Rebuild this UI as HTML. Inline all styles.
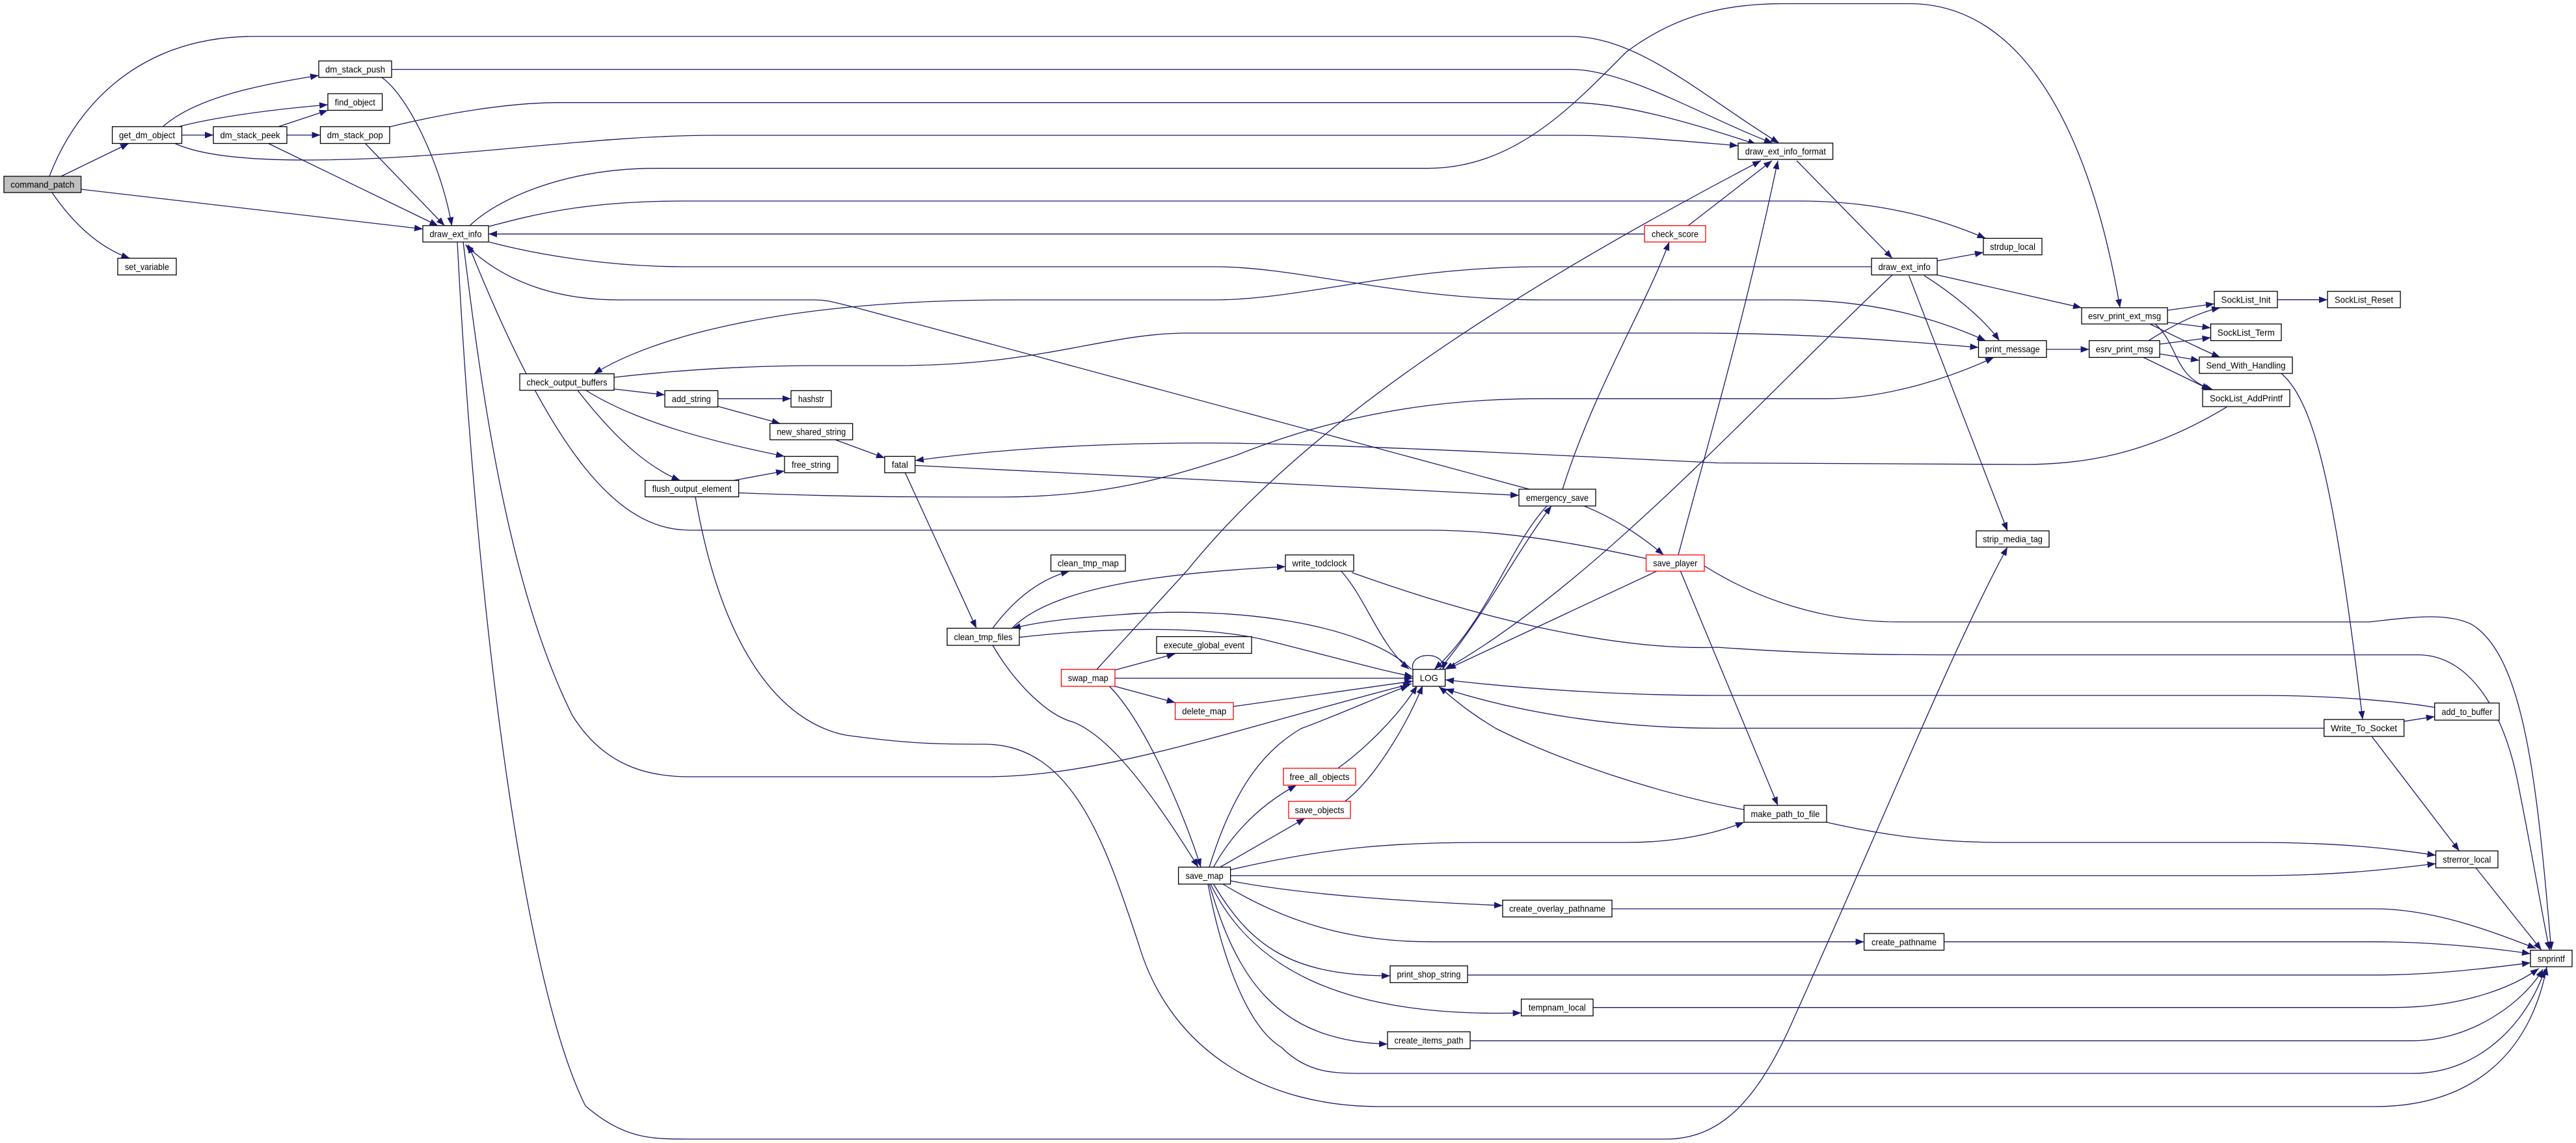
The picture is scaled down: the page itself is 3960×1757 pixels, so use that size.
<!DOCTYPE html>
<html><head><meta charset="utf-8"><style>
html,body{margin:0;padding:0;background:#fff;}
svg{display:block;}
text{font-family:"Liberation Sans",sans-serif;font-size:14px;fill:#000;}
</style></head><body>
<svg width="3960" height="1757" viewBox="0 0 3960 1757" xmlns="http://www.w3.org/2000/svg">
<defs>
<marker id="a" markerUnits="userSpaceOnUse" markerWidth="14" markerHeight="10" refX="13" refY="5" orient="auto">
<path d="M0,0 L13,5 L0,10 z" fill="#191970"/>
</marker>
</defs>
<g fill="none" stroke="#191970" stroke-width="1.3" marker-end="url(#a)">
<path d="M76,271 C110,180 200,56 390,56 L2414,56 C2520,56 2620,150 2735,220"/>
<path d="M94,271 L198,220.5"/>
<path d="M125,291 L650,352"/>
<path d="M80,296 C110,340 150,380 199.5,397"/>
<path d="M250,195 C300,150 400,130 490,116"/>
<path d="M273.6,195 C330,180 420,168 504,161"/>
<path d="M279.5,207.6 L328,207.6"/>
<path d="M269,220.5 C300,235 360,246 470,246 C700,246 900,208 1100,208 L2414,208 C2500,208 2600,218 2672,224"/>
<path d="M602,106.6 L2414,106.6 C2500,106.6 2620,180 2725,220"/>
<path d="M587,119 C630,150 680,260 694.5,347"/>
<path d="M427,195 L504,169.5"/>
<path d="M441,207.6 L492.5,207.6"/>
<path d="M412.5,220.5 L673.4,347"/>
<path d="M599,195 C680,175 780,157.7 860,157.7 L2414,157.7 C2500,157.7 2620,195 2700,222"/>
<path d="M561.5,220.5 L683.5,347"/>
<path d="M722,347 C760,310 860,258.7 1010,258.7 L2195,258.7 C2330,258.7 2420,160 2500,80 C2580,20 2660,5.6 2741,5.6 L2935,5.6 C3150,5.6 3230,300 3259,473"/>
<path d="M752,348 C820,330 900,309 1052,309 L2766,309 C2900,309 2990,340 3052.5,366.4"/>
<path d="M2528,359.7 L751,359.7"/>
<path d="M752,372 C820,390 930,410 1052,410 L1867,410 C2000,410 2150,461 2372,461 L2749,461 C2900,461 3000,500 3052.5,523.6"/>
<path d="M2351,752 L1320,474 C1280,464 1270,461 1254,461 L951,461 C850,461 770,430 715.5,376"/>
<path d="M2877,410 L2372,410 C2150,410 2000,461 1867,461 L1555,461 C1200,461 1000,520 913,574.6"/>
<path d="M944,580 C1050,568 1150,562 1260,562 L1380,562 C1600,562 1700,512 1825,512 L2600,512 C2800,512 2950,527 3041.5,534"/>
<path d="M944,598 L1022,607"/>
<path d="M1103.6,612.8 L1216,612.8"/>
<path d="M1103.6,624.6 L1199.5,651"/>
<path d="M900.7,600 C980,650 1100,680 1206,701.5"/>
<path d="M888,600 C950,680 1000,720 1045.5,738.5"/>
<path d="M1128,738.5 L1206,724"/>
<path d="M1135.6,757.6 C1300,764 1400,764 1539,764 C1700,764 1800,733 1900,700 C2050,640 2200,612.8 2372,612.8 L2808,612.8 C2900,612.8 3000,580 3065,549.4"/>
<path d="M1069,764 C1110,1000 1200,1110 1300,1130 C1400,1144 1450,1144 1514,1144 C1650,1144 1700,1300 1750,1450 C1800,1620 1950,1701 2120,1701 L3650,1701 C3800,1701 3890,1620 3915,1486"/>
<path d="M703,372 C730,900 800,1500 900,1700 C960,1751 1000,1751 1060,1751 L2560,1751 C2640,1751 2700,1700 2760,1560 C2900,1250 3000,1000 3086,841"/>
<path d="M712,372 C740,600 780,900 880,1100 C930,1180 1000,1194 1060,1194 L1514,1194 C1700,1194 1900,1120 2170,1051"/>
<path d="M2530.5,858.6 C2400,830 2300,815 2195,815 L1060,815 C950,815 850,700 720,376"/>
<path d="M1284,676 L1360,704"/>
<path d="M3423,625.7 C3300,700 3200,714 3111,714 L2640,711.6 C2400,700 2000,680 1850,681 C1650,681 1500,695 1407,708"/>
<path d="M1407,715.5 L2335,761.5"/>
<path d="M1391.5,726.7 L1501,965.7"/>
<path d="M2402,752 C2450,600 2530,470 2566,372"/>
<path d="M2595,347 L2724,247"/>
<path d="M1686,1029 L1825,877 C2000,660 2300,460 2707,247"/>
<path d="M2580,853 C2620,700 2680,500 2733,247"/>
<path d="M2909,422.6 C2700,620 2450,900 2221,1029"/>
<path d="M2378,777.8 C2320,840 2290,950 2205,1029"/>
<path d="M2213,1029 C2280,950 2330,850 2385,777.8"/>
<path d="M2435,777.8 C2490,800 2530,830 2557.5,853"/>
<path d="M1555.7,965.7 C1620,900 1800,880 1976,871"/>
<path d="M1526,965.7 C1560,920 1600,890 1644,878"/>
<path d="M2170,1029 C2100,960 1900,930 1720,945 C1650,950 1600,955 1556,966"/>
<path d="M2762,247 L2909,397"/>
<path d="M2978,401 L3049,388"/>
<path d="M2978,422.6 L3200,473"/>
<path d="M2958,423.7 C3000,450 3050,490 3073.5,523.6"/>
<path d="M2934.6,423.7 L3086,816"/>
<path d="M3146,537 L3211.6,537"/>
<path d="M3332,477 L3404,467"/>
<path d="M3332,495.5 L3398.5,504"/>
<path d="M3305,498 C3350,520 3390,540 3413,549"/>
<path d="M3313,498 C3350,530 3340,580 3402,599"/>
<path d="M3303,523.6 C3340,500 3380,480 3413,473"/>
<path d="M3320,529 L3398.5,519"/>
<path d="M3320,544 L3381,554"/>
<path d="M3295,549.4 L3397.6,599"/>
<path d="M3501,460.7 L3578,460.7"/>
<path d="M3507,574 C3560,620 3590,760 3632,1106"/>
<path d="M2078,880 C2300,960 2500,1000 2640,995 C2800,1006 2900,1006.6 3000,1006.6 L3717,1006.6 C3800,1006.6 3850,1100 3870,1200 C3900,1350 3910,1420 3919.6,1460.6"/>
<path d="M2620,870 C2700,920 2800,956 2920,956 L3642,956 C3700,950 3760,940 3800,960 C3880,1010 3900,1200 3922,1460.6"/>
<path d="M2549,877 L2225,1028.5"/>
<path d="M2583,877 L2733,1238"/>
<path d="M2061,877 C2100,920 2120,990 2166,1028.5"/>
<path d="M1714,1030 L1806.6,1005"/>
<path d="M1714,1042.5 L2172,1042.5"/>
<path d="M1714,1055 L1806.6,1080"/>
<path d="M1896,1086 L2172,1047"/>
<path d="M1705.5,1055 C1760,1110 1820,1250 1846,1333"/>
<path d="M1526,992 C1560,1050 1610,1100 1650,1110 C1700,1130 1760,1200 1842,1333"/>
<path d="M1566.6,979.7 C1700,965 1850,960 1950,985 C2050,1010 2120,1030 2172,1040"/>
<path d="M1859,1333 C1900,1200 1950,1150 2000,1120 C2080,1090 2120,1070 2166,1054"/>
<path d="M1865.5,1333 C1900,1270 1950,1230 1993,1207"/>
<path d="M1875.6,1333 L2006,1258"/>
<path d="M2056.6,1181 C2100,1150 2150,1100 2178.6,1054"/>
<path d="M2067.5,1231.7 C2110,1200 2160,1120 2187,1054"/>
<path d="M2172,1030 C2165,1000 2225,1000 2218,1030"/>
<path d="M2681,1244.6 C2550,1220 2400,1170 2300,1120 C2250,1090 2230,1070 2212,1055.5"/>
<path d="M3572.7,1119.4 L2640,1119.4 C2500,1119.4 2350,1100 2222,1059"/>
<path d="M3742.7,1087.4 C3700,1080 3600,1069 3470,1069 L2640,1069 C2500,1069 2350,1060 2222,1045"/>
<path d="M3695.6,1108.8 L3742.7,1101.5"/>
<path d="M3646,1132 L3780.6,1308"/>
<path d="M2808,1264 C2900,1285 2980,1295 3080,1295 L3465,1295 C3600,1295 3680,1305 3744.5,1314.7"/>
<path d="M1891.6,1346 L3465,1346 C3600,1346 3680,1335 3744.5,1327.6"/>
<path d="M1891.6,1337 C2050,1300 2150,1295 2300,1295 L2500,1295 C2580,1295 2640,1280 2681,1264"/>
<path d="M3806,1334 L3907,1460.6"/>
<path d="M1891.6,1354 C2000,1375 2150,1385 2310,1392"/>
<path d="M2478,1397 L3650,1397 C3750,1397 3850,1440 3898.5,1457.8"/>
<path d="M1879.8,1359 C1980,1420 2080,1447.7 2200,1447.7 L2865.6,1447.7"/>
<path d="M2988.5,1447.7 L3650,1447.7 C3750,1447.7 3850,1460 3890,1466"/>
<path d="M1865.5,1359 C1920,1450 1980,1500 2137,1500"/>
<path d="M2256,1498.8 L3650,1498.8 C3750,1498.8 3850,1485 3890,1480"/>
<path d="M1861,1359 C1920,1480 2050,1565 2338.6,1557"/>
<path d="M2449,1548.7 L3680,1548.7 C3780,1548.7 3860,1520 3902.7,1488.7"/>
<path d="M1859,1359 C1900,1500 1960,1600 2133,1605"/>
<path d="M2260,1599.8 L3709,1599.8 C3800,1599.8 3880,1540 3909.4,1489.8"/>
<path d="M1857,1359 C1880,1480 1920,1580 1970,1610 C2010,1650 2050,1650 2100,1650 L3709,1650 C3820,1650 3890,1560 3912,1490"/>
</g>
<g stroke="#000" stroke-width="1.3" fill="#fff">
<rect x="6" y="271" width="118.6" height="25" fill="#bfbfbf"/>
<rect x="172.6" y="194.7" width="106.9" height="25.8"/>
<rect x="490" y="93.7" width="112" height="25.3"/>
<rect x="504" y="144" width="83.6" height="25.5"/>
<rect x="328" y="194.7" width="113" height="25.8"/>
<rect x="492.5" y="194.7" width="106.5" height="25.8"/>
<rect x="181" y="397" width="90" height="25.6"/>
<rect x="650" y="346.8" width="101" height="25.2"/>
<rect x="799" y="574.6" width="145" height="25.4"/>
<rect x="1022" y="600.5" width="81.6" height="25.2"/>
<rect x="1216" y="600.5" width="62" height="25.2"/>
<rect x="1183.6" y="651" width="127.1" height="25"/>
<rect x="1206" y="701.5" width="82" height="25.2"/>
<rect x="991.7" y="738.5" width="143.9" height="25.2"/>
<rect x="1360" y="701.5" width="46.7" height="25.2"/>
<rect x="2335" y="752" width="118" height="25.8"/>
<rect x="1615.5" y="853" width="114.5" height="25"/>
<rect x="1976" y="853" width="105" height="25"/>
<rect x="2672" y="220" width="145.6" height="25"/>
<rect x="3049" y="366.4" width="90" height="25.3"/>
<rect x="2877" y="397" width="101" height="25.6"/>
<rect x="3200" y="473" width="132" height="25"/>
<rect x="3404" y="447.8" width="97" height="25.2"/>
<rect x="3578" y="447.8" width="112" height="25.2"/>
<rect x="3398.5" y="498" width="108.5" height="25.6"/>
<rect x="3041.5" y="523.6" width="104.5" height="25.8"/>
<rect x="3211.6" y="523.6" width="108.4" height="25.8"/>
<rect x="3381" y="548.8" width="143" height="25.2"/>
<rect x="3386" y="599" width="134" height="26"/>
<rect x="3038" y="816" width="112" height="25"/>
<rect x="1456" y="965.7" width="111" height="26.3"/>
<rect x="1778" y="978.6" width="146" height="25.8"/>
<rect x="2172" y="1029" width="49.6" height="26"/>
<rect x="2137" y="1484.7" width="119" height="25.8"/>
<rect x="2338.6" y="1535.8" width="110.4" height="25.8"/>
<rect x="2133" y="1586" width="127" height="26"/>
<rect x="1811.6" y="1333" width="80" height="26"/>
<rect x="2310" y="1383.7" width="168" height="25.8"/>
<rect x="3742.7" y="1080.7" width="99.3" height="26.3"/>
<rect x="3572.7" y="1106" width="122.9" height="26"/>
<rect x="2681" y="1238" width="127" height="26"/>
<rect x="3744.5" y="1308" width="95.5" height="26"/>
<rect x="2865.6" y="1435" width="122.9" height="25.6"/>
<rect x="3890" y="1460.6" width="64" height="25.4"/>
</g>
<g stroke="#ff0000" stroke-width="1.3" fill="#fff">
<rect x="2528" y="346.8" width="94" height="25.2"/>
<rect x="2530.5" y="853" width="89.5" height="25"/>
<rect x="1631.5" y="1029" width="82.5" height="26"/>
<rect x="1806.6" y="1080" width="89.4" height="26"/>
<rect x="1973" y="1181" width="111" height="26"/>
<rect x="1981" y="1231.7" width="95" height="26.3"/>
</g>
<g text-anchor="middle">
<text x="65.3" y="288.5" textLength="98" lengthAdjust="spacingAndGlyphs">command_patch</text>
<text x="226" y="212.6" textLength="86" lengthAdjust="spacingAndGlyphs">get_dm_object</text>
<text x="546" y="111.4" textLength="92" lengthAdjust="spacingAndGlyphs">dm_stack_push</text>
<text x="545.8" y="161.8" textLength="62" lengthAdjust="spacingAndGlyphs">find_object</text>
<text x="384.5" y="212.6" textLength="92" lengthAdjust="spacingAndGlyphs">dm_stack_peek</text>
<text x="545.8" y="212.6" textLength="86" lengthAdjust="spacingAndGlyphs">dm_stack_pop</text>
<text x="226" y="414.8" textLength="68" lengthAdjust="spacingAndGlyphs">set_variable</text>
<text x="700.5" y="364.4" textLength="80" lengthAdjust="spacingAndGlyphs">draw_ext_info</text>
<text x="871.5" y="592.3" textLength="124" lengthAdjust="spacingAndGlyphs">check_output_buffers</text>
<text x="1062.8" y="618" textLength="60" lengthAdjust="spacingAndGlyphs">add_string</text>
<text x="1247" y="618" textLength="40" lengthAdjust="spacingAndGlyphs">hashstr</text>
<text x="1247.2" y="668.5" textLength="106" lengthAdjust="spacingAndGlyphs">new_shared_string</text>
<text x="1247" y="719" textLength="60" lengthAdjust="spacingAndGlyphs">free_string</text>
<text x="1063.6" y="756" textLength="122" lengthAdjust="spacingAndGlyphs">flush_output_element</text>
<text x="1383.4" y="719" textLength="25" lengthAdjust="spacingAndGlyphs">fatal</text>
<text x="2575" y="364.4" textLength="72" lengthAdjust="spacingAndGlyphs">check_score</text>
<text x="2394" y="769.8" textLength="96" lengthAdjust="spacingAndGlyphs">emergency_save</text>
<text x="1672.8" y="870.5" textLength="94" lengthAdjust="spacingAndGlyphs">clean_tmp_map</text>
<text x="2028.5" y="870.5" textLength="84" lengthAdjust="spacingAndGlyphs">write_todclock</text>
<text x="2575.3" y="870.5" textLength="68" lengthAdjust="spacingAndGlyphs">save_player</text>
<text x="2744.8" y="237.5" textLength="124" lengthAdjust="spacingAndGlyphs">draw_ext_info_format</text>
<text x="3094" y="384" textLength="70" lengthAdjust="spacingAndGlyphs">strdup_local</text>
<text x="2927.5" y="414.8" textLength="80" lengthAdjust="spacingAndGlyphs">draw_ext_info</text>
<text x="3266" y="490.5" textLength="112" lengthAdjust="spacingAndGlyphs">esrv_print_ext_msg</text>
<text x="3452.5" y="465.4" textLength="76" lengthAdjust="spacingAndGlyphs">SockList_Init</text>
<text x="3634" y="465.4" textLength="90" lengthAdjust="spacingAndGlyphs">SockList_Reset</text>
<text x="3452.8" y="515.8" textLength="88" lengthAdjust="spacingAndGlyphs">SockList_Term</text>
<text x="3093.8" y="541.5" textLength="84" lengthAdjust="spacingAndGlyphs">print_message</text>
<text x="3265.8" y="541.5" textLength="88" lengthAdjust="spacingAndGlyphs">esrv_print_msg</text>
<text x="3452.5" y="566.4" textLength="122" lengthAdjust="spacingAndGlyphs">Send_With_Handling</text>
<text x="3453" y="617" textLength="112" lengthAdjust="spacingAndGlyphs">SockList_AddPrintf</text>
<text x="3094" y="833.5" textLength="92" lengthAdjust="spacingAndGlyphs">strip_media_tag</text>
<text x="1511.5" y="983.8" textLength="90" lengthAdjust="spacingAndGlyphs">clean_tmp_files</text>
<text x="1851" y="996.5" textLength="124" lengthAdjust="spacingAndGlyphs">execute_global_event</text>
<text x="2196.8" y="1047" textLength="28" lengthAdjust="spacingAndGlyphs">LOG</text>
<text x="1672.8" y="1047" textLength="62" lengthAdjust="spacingAndGlyphs">swap_map</text>
<text x="1851.3" y="1098" textLength="68" lengthAdjust="spacingAndGlyphs">delete_map</text>
<text x="2028.5" y="1199" textLength="92" lengthAdjust="spacingAndGlyphs">free_all_objects</text>
<text x="2028.5" y="1249.8" textLength="76" lengthAdjust="spacingAndGlyphs">save_objects</text>
<text x="1851.6" y="1351" textLength="58" lengthAdjust="spacingAndGlyphs">save_map</text>
<text x="2394" y="1401.6" textLength="148" lengthAdjust="spacingAndGlyphs">create_overlay_pathname</text>
<text x="2196.5" y="1502.6" textLength="98" lengthAdjust="spacingAndGlyphs">print_shop_string</text>
<text x="2393.8" y="1553.7" textLength="88" lengthAdjust="spacingAndGlyphs">tempnam_local</text>
<text x="2196.5" y="1604" textLength="106" lengthAdjust="spacingAndGlyphs">create_items_path</text>
<text x="3792.4" y="1098.8" textLength="78" lengthAdjust="spacingAndGlyphs">add_to_buffer</text>
<text x="3634" y="1124" textLength="102" lengthAdjust="spacingAndGlyphs">Write_To_Socket</text>
<text x="2744.5" y="1256" textLength="106" lengthAdjust="spacingAndGlyphs">make_path_to_file</text>
<text x="3792.3" y="1326" textLength="74" lengthAdjust="spacingAndGlyphs">strerror_local</text>
<text x="2927" y="1452.8" textLength="100" lengthAdjust="spacingAndGlyphs">create_pathname</text>
<text x="3922" y="1478.3" textLength="42" lengthAdjust="spacingAndGlyphs">snprintf</text>
</g>
</svg>
</body></html>
